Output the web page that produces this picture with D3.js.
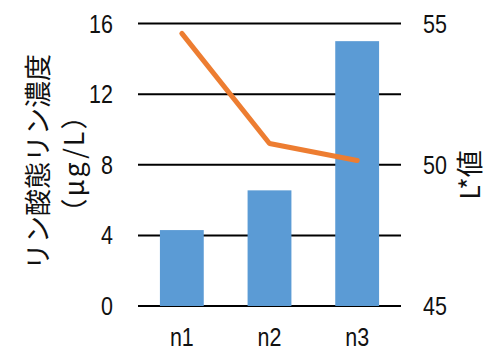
<!DOCTYPE html>
<html><head><meta charset="utf-8">
<script src="https://cdn.jsdelivr.net/npm/d3@7"></script>
<style>
body{margin:0;background:#fff;}
.num{font-family:"Liberation Sans",Arial,sans-serif;font-size:25px;fill:#111;}
.jp{font-family:"Noto Sans CJK JP",sans-serif;font-size:27px;fill:#111;}
</style></head>
<body><svg id="c" width="487" height="351"></svg>
<script>
const categories = ["n1","n2","n3"];
const phosphate = [4.3, 6.55, 15.0];
const lValue = [54.65, 50.75, 50.15];
const leftTicks = [0,4,8,12,16];
const rightTicks = [45,50,55];

const svg = d3.select("#c");
const L = 138, R = 401, T = 23.5, B = 306;
const x = d3.scaleBand().domain(categories).range([L,R]).paddingInner(0.5).paddingOuter(0.25);
const yL = d3.scaleLinear().domain([0,16]).range([B,T]);
const yR = d3.scaleLinear().domain([45,55]).range([B,T]);
const sx = 0.86;

// gridlines
svg.append("g").selectAll("line").data(leftTicks).join("line")
  .attr("x1",L).attr("x2",R).attr("y1",d=>yL(d)).attr("y2",d=>yL(d))
  .attr("stroke","#000").attr("stroke-width",2);

// bars
svg.append("g").selectAll("rect").data(categories).join("rect")
  .attr("x",d=>x(d)).attr("width",x.bandwidth())
  .attr("y",(d,i)=>yL(phosphate[i])).attr("height",(d,i)=>yL(0)-yL(phosphate[i]))
  .attr("fill","#5B9BD5");

// line
const line = d3.line().x((d,i)=>x(categories[i])+x.bandwidth()/2).y(d=>yR(d));
svg.append("path").datum(lValue).attr("d",line)
  .attr("fill","none").attr("stroke","#ED7D31").attr("stroke-width",5)
  .attr("stroke-linejoin","round").attr("stroke-linecap","round");

// left axis labels
svg.append("g").selectAll("text").data(leftTicks).join("text").attr("class","num")
  .attr("transform",d=>`translate(113,${yL(d)}) scale(${sx},1)`).attr("dy","0.36em").attr("text-anchor","end").text(d=>d);
// right axis labels
svg.append("g").selectAll("text").data(rightTicks).join("text").attr("class","num")
  .attr("transform",d=>`translate(423,${yR(d)}) scale(${sx},1)`).attr("dy","0.36em").attr("text-anchor","start").text(d=>d);
// x labels
svg.append("g").selectAll("text").data(categories).join("text").attr("class","num")
  .attr("transform",d=>`translate(${x(d)+x.bandwidth()/2},346) scale(${sx},1)`).attr("text-anchor","middle").text(d=>d);

// left title
svg.append("text").attr("class","jp").attr("text-anchor","middle")
  .attr("transform","translate(48,162) rotate(-90)").text("リン酸態リン濃度");
svg.append("text").attr("class","jp").attr("text-anchor","middle").attr("letter-spacing","2px")
  .attr("transform","translate(84,163) rotate(-90)").text("（μg/L）");
// right title
svg.append("text").attr("class","jp").attr("text-anchor","middle")
  .attr("transform","translate(480,175) rotate(-90)").text("L*値");
</script></body></html>
